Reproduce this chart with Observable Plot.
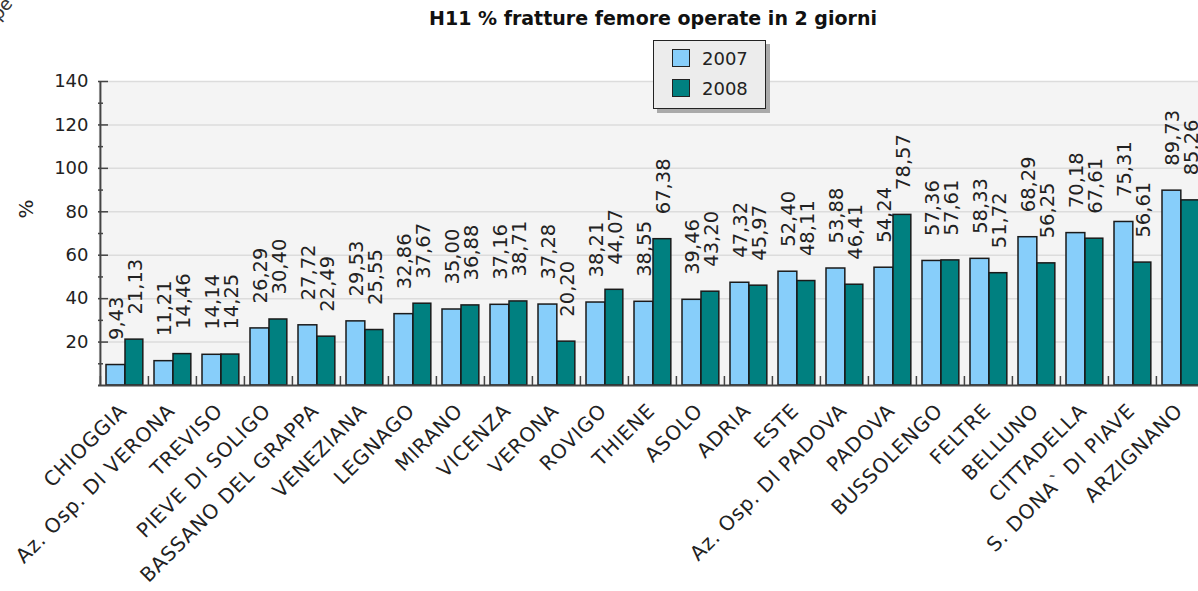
<!DOCTYPE html>
<html>
<head>
<meta charset="utf-8">
<script src="https://cdn.jsdelivr.net/npm/d3@7"></script>
<script src="https://cdn.jsdelivr.net/npm/@observablehq/plot@0.6"></script>
<style>
  html, body { margin: 0; padding: 0; background: #fff; overflow: hidden; }
  #wrap { position: relative; width: 1198px; height: 591px; overflow: hidden; font-family: "DejaVu Sans", Verdana, sans-serif; color: #222; }
  #chart { position: absolute; left: 0; top: 0; z-index: 1; }
  #chart g[aria-label="x-axis tick label"] text { letter-spacing: 0.8px; }
  #title { position: absolute; left: 0; width: 1306px; top: 7px; text-align: center; font-weight: bold; font-size: 19px; color: #111; z-index: 2; }
  #legend { position: absolute; left: 653px; top: 40px; width: 111px; height: 67px; background: #ececec; border: 1.5px solid #222; box-shadow: 4px 4px 0 #aaa; z-index: 3; }
  .item { position: absolute; left: 18px; font-size: 18px; line-height: 19px; }
  .sw { display: inline-block; width: 16px; height: 16px; border: 1.5px solid #222; vertical-align: top; margin-right: 12px; }
  #ylab { position: absolute; left: 16px; top: 197px; font-size: 20px; transform: rotate(-90deg); transform-origin: center; z-index: 2; }
  #frag { position: absolute; left: -10px; top: -2px; font-size: 18px; color: #333; transform: rotate(-50deg); z-index: 2; }
</style>
</head>
<body>
<div id="wrap">
  <div id="frag">pe</div>
  <div id="title">H11 % fratture femore operate in 2 giorni</div>
  <div id="legend"></div>
  <div id="ylab">%</div>
  <div id="chart"></div>
</div>
<script>
const categories = [
  "CHIOGGIA", "Az. Osp. DI VERONA", "TREVISO", "PIEVE DI SOLIGO", "BASSANO DEL GRAPPA",
  "VENEZIANA", "LEGNAGO", "MIRANO", "VICENZA", "VERONA", "ROVIGO", "THIENE", "ASOLO",
  "ADRIA", "ESTE", "Az. Osp. DI PADOVA", "PADOVA", "BUSSOLENGO", "FELTRE", "BELLUNO",
  "CITTADELLA", "S. DONA` DI PIAVE", "ARZIGNANO"
];
const values2007 = [9.43, 11.21, 14.14, 26.29, 27.72, 29.53, 32.86, 35.00, 37.16, 37.28, 38.21, 38.55, 39.46, 47.32, 52.40, 53.88, 54.24, 57.36, 58.33, 68.29, 70.18, 75.31, 89.73];
const values2008 = [21.13, 14.46, 14.25, 30.40, 22.49, 25.55, 37.67, 36.88, 38.71, 20.20, 44.07, 67.38, 43.20, 45.97, 48.11, 46.41, 78.57, 57.61, 51.72, 56.25, 67.61, 56.61, 85.26];
const seriesNames = ["2007", "2008"];
const seriesColors = ["#87cefa", "#008080"];
const yTicks = [20, 40, 60, 80, 100, 120, 140];
const yMinor = [10, 30, 50, 70, 90, 110, 130];

const W = 1198, H = 591, mL = 98, mR = -8, mT = 81, mB = 206;
const plotW = W - mL - mR, plotH = H - mT - mB;
const step = plotW / categories.length;
const d07 = categories.map((c, i) => ({cat: c, v: values2007[i]}));
const d08 = categories.map((c, i) => ({cat: c, v: values2008[i]}));
const fmt = v => v.toFixed(2).replace(".", ",");
const ink = "#222";

const chart = Plot.plot({
  width: W, height: H,
  marginLeft: mL, marginRight: mR, marginTop: mT, marginBottom: mB,
  style: {fontFamily: "DejaVu Sans, Verdana, sans-serif", fontSize: "17px", color: ink, background: "transparent", overflow: "hidden"},
  x: {domain: categories, paddingInner: 0, paddingOuter: 0, label: null},
  y: {domain: [0, 140], label: null},
  marks: [
    Plot.frame({fill: "#f4f4f4", stroke: null}),
    Plot.gridY(yTicks, {stroke: "#dcdcdc", strokeOpacity: 1, strokeWidth: 1.5}),
    Plot.barY(d07, {x: "cat", y: "v", fill: seriesColors[0], stroke: "#1a1a1a", strokeWidth: 1.5, insetLeft: 6, insetRight: step - 25}),
    Plot.text(d07, {x: "cat", y: "v", text: d => fmt(d.v), rotate: -90, textAnchor: "start", lineAnchor: "middle", dx: 16 - step / 2, dy: -25, fontSize: 19.5, fill: ink}),
    Plot.barY(d08, {x: "cat", y: "v", fill: seriesColors[1], stroke: "#1a1a1a", strokeWidth: 1.5, insetLeft: 25, insetRight: step - 43}),
    Plot.text(d08, {x: "cat", y: "v", text: d => fmt(d.v), rotate: -90, textAnchor: "start", lineAnchor: "middle", dx: 35 - step / 2, dy: -25, fontSize: 19.5, fill: ink}),
    Plot.ruleY([0], {stroke: "#444", strokeWidth: 2}),
    Plot.ruleX(categories, {dx: -step / 2, insetTop: plotH - 9, stroke: "#444", strokeWidth: 1.5}),
    Plot.ruleX([categories[0]], {dx: -step / 2, stroke: "#444", strokeWidth: 2}),
    Plot.ruleY(yTicks, {insetRight: plotW - 10, stroke: "#444", strokeWidth: 1.5}),
    Plot.ruleY(yMinor, {insetRight: plotW - 5, stroke: "#444", strokeWidth: 1.5}),
    Plot.axisY(yTicks, {tickSize: 0, tickPadding: 10, fontSize: 18, label: null}),
    Plot.axisX({tickRotate: -45, tickSize: 0, tickPadding: 22, dx: -1, fontSize: 20, label: null})
  ]
});
document.getElementById("chart").appendChild(chart);

const legend = document.getElementById("legend");
seriesNames.forEach((name, i) => {
  const item = document.createElement("div");
  item.className = "item";
  item.style.top = (8 + i * 30) + "px";
  item.innerHTML = `<span class="sw" style="background:${seriesColors[i]}"></span>${name}`;
  legend.appendChild(item);
});
</script>
</body>
</html>
